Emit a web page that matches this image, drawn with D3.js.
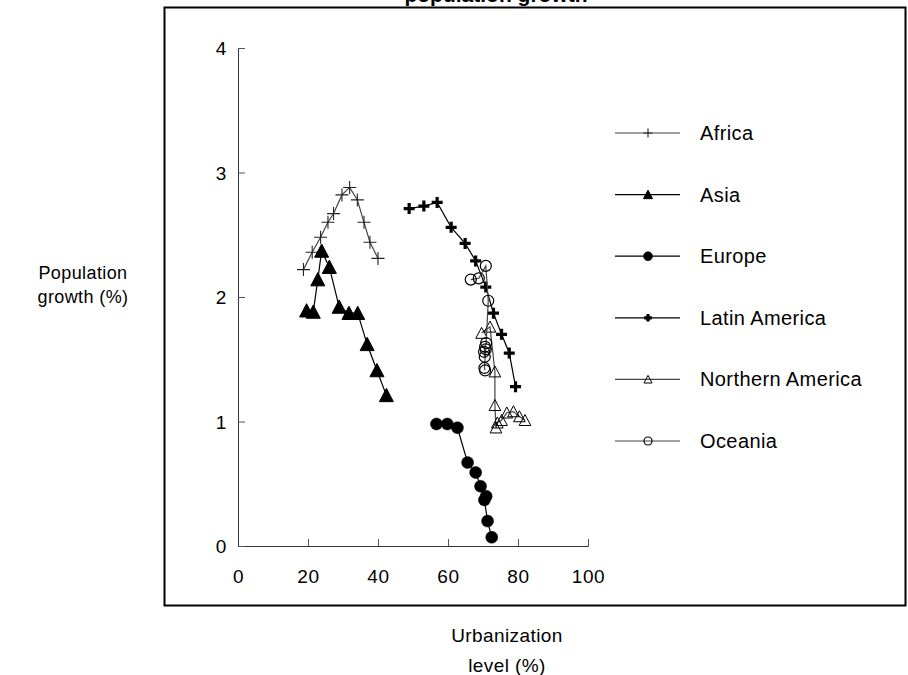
<!DOCTYPE html>
<html>
<head>
<meta charset="utf-8">
<script src="https://cdn.jsdelivr.net/npm/d3@7"></script>
<style>
  body { margin: 0; background: #fff; }
  text { font-family: "Liberation Sans", Arial, sans-serif; fill: #000; }
</style>
</head>
<body>
<script>
// urbanization level (%) and population growth (%) per region
var africaX = [18.7, 21.2, 23.6, 25.7, 27.3, 29.7, 31.9, 34.1, 36.0, 37.7, 40.0],
    africaY = [2.22, 2.36, 2.48, 2.60, 2.67, 2.82, 2.88, 2.78, 2.60, 2.44, 2.31];
var asiaX = [19.6, 21.5, 22.8, 23.9, 26.1, 28.9, 31.7, 34.2, 36.9, 39.7, 42.4],
    asiaY = [1.89, 1.88, 2.14, 2.37, 2.24, 1.92, 1.87, 1.87, 1.62, 1.41, 1.21];
var europeX = [56.7, 59.8, 62.7, 65.6, 67.9, 69.3, 70.9, 70.4, 71.3, 72.5],
    europeY = [0.98, 0.98, 0.95, 0.67, 0.59, 0.48, 0.40, 0.37, 0.20, 0.07];
var latamX = [48.9, 53.1, 56.9, 60.9, 64.9, 67.9, 70.8, 73.0, 75.3, 77.5, 79.3],
    latamY = [2.71, 2.73, 2.76, 2.56, 2.43, 2.29, 2.08, 1.87, 1.70, 1.55, 1.28];
var northAmX = [69.6, 72.0, 73.4, 73.4, 73.7, 74.1, 75.3, 76.8, 78.7, 80.4, 82.0],
    northAmY = [1.71, 1.76, 1.40, 1.13, 0.95, 0.99, 1.01, 1.07, 1.08, 1.04, 1.01];
var oceaniaX = [66.5, 68.8, 70.8, 71.5, 70.9, 70.6, 70.3, 70.5, 70.8, 70.4, 70.6],
    oceaniaY = [2.14, 2.15, 2.25, 1.97, 1.63, 1.60, 1.56, 1.52, 1.58, 1.43, 1.41];

var seriesNames = ["Africa", "Asia", "Europe", "Latin America", "Northern America", "Oceania"];
var xTicks = [0, 20, 40, 60, 80, 100],
    yTicks = [0, 1, 2, 3, 4];

var series = [
  {name: seriesNames[0], xs: africaX, ys: africaY, mark: "plus", line: "#444"},
  {name: seriesNames[1], xs: asiaX, ys: asiaY, mark: "triFill", line: "#000"},
  {name: seriesNames[2], xs: europeX, ys: europeY, mark: "dotFill", line: "#000"},
  {name: seriesNames[3], xs: latamX, ys: latamY, mark: "plusBold", line: "#000"},
  {name: seriesNames[4], xs: northAmX, ys: northAmY, mark: "triOpen", line: "#444"},
  {name: seriesNames[5], xs: oceaniaX, ys: oceaniaY, mark: "dotOpen", line: "#444"}
];

var width = 908, height = 675;

var svg = d3.select("body").append("svg")
    .attr("width", width)
    .attr("height", height);

var x = d3.scaleLinear().domain([0, 100]).range([238, 588]),
    y = d3.scaleLinear().domain([0, 4]).range([546, 48]);

// outer frame
svg.append("rect")
    .attr("x", 164.5).attr("y", 7.5)
    .attr("width", 741).attr("height", 598)
    .attr("fill", "none")
    .attr("stroke", "#000")
    .attr("stroke-width", 2);

// title, cut off at the top edge as in the original
svg.append("text")
    .attr("x", 496).attr("y", 2)
    .attr("text-anchor", "middle")
    .style("font-weight", "bold")
    .style("font-size", "21px")
    .text("population growth");

// axes
var xAxis = svg.append("g")
    .attr("transform", "translate(0," + y(0) + ")")
    .call(d3.axisBottom(x).tickValues(xTicks).tickSize(-7).tickPadding(24).tickFormat(d3.format("d")));
var yAxis = svg.append("g")
    .attr("transform", "translate(" + x(0) + ",0)")
    .call(d3.axisLeft(y).tickValues(yTicks).tickSize(-7).tickPadding(11).tickFormat(d3.format("d")));

[xAxis, yAxis].forEach(function(a) {
  a.select(".domain").attr("stroke", "#333");
  a.selectAll(".tick line").attr("stroke", "#555");
  a.selectAll(".tick text")
      .style("font-family", "'Liberation Sans', Arial, sans-serif")
      .style("font-size", "19px")
      .style("letter-spacing", "0.6px")
      .attr("fill", "#000");
});
yAxis.selectAll(".tick text").attr("dy", "0.36em");

// axis titles
function label(tx, ty, str, size) {
  svg.append("text")
      .attr("x", tx).attr("y", ty)
      .attr("text-anchor", "middle")
      .style("font-size", size + "px")
      .style("letter-spacing", "0.4px")
      .text(str);
}
label(83, 279, "Population", 18);
label(83, 303, "growth (%)", 18);
label(507, 642, "Urbanization", 19);
label(507, 672, "level (%)", 19);

// marker drawing, s = half size
function drawMark(g, kind, cx, cy, s) {
  if (kind == "plus" || kind == "plusBold") {
    g.append("path")
        .attr("d", "M" + (cx - s) + "," + cy + "H" + (cx + s) + "M" + cx + "," + (cy - s) + "V" + (cy + s))
        .attr("stroke", kind == "plus" ? "#222" : "#000")
        .attr("stroke-width", kind == "plus" ? 1.1 : 3.2)
        .attr("fill", "none");
  } else if (kind == "triFill" || kind == "triOpen") {
    g.append("path")
        .attr("d", "M" + cx + "," + (cy - s) + "L" + (cx + s) + "," + (cy + s * 0.9) + "L" + (cx - s) + "," + (cy + s * 0.9) + "Z")
        .attr("fill", kind == "triFill" ? "#000" : "#fff")
        .attr("fill-opacity", kind == "triFill" ? 1 : 0)
        .attr("stroke", "#000")
        .attr("stroke-width", 1);
  } else {
    g.append("circle")
        .attr("cx", cx).attr("cy", cy).attr("r", s)
        .attr("fill", kind == "dotFill" ? "#000" : "none")
        .attr("stroke", "#000")
        .attr("stroke-width", kind == "dotFill" ? 0.5 : 1.2);
  }
}

var markSize = {plus: 6.5, plusBold: 5.5, triFill: 7, triOpen: 5.8, dotFill: 6, dotOpen: 5.5},
    legendSize = {plus: 4.5, plusBold: 3.8, triFill: 4.5, triOpen: 4, dotFill: 4.5, dotOpen: 4};

var line = d3.line()
    .x(function(d) { return x(d[0]); })
    .y(function(d) { return y(d[1]); });

series.forEach(function(s) {
  var pts = d3.zip(s.xs, s.ys);
  var g = svg.append("g").attr("class", "series");
  g.append("path")
      .datum(pts)
      .attr("d", line)
      .attr("fill", "none")
      .attr("stroke", s.line)
      .attr("stroke-width", 1.2);
  pts.forEach(function(p) {
    drawMark(g, s.mark, x(p[0]), y(p[1]), markSize[s.mark]);
  });
});

// legend
var legend = svg.append("g").attr("class", "legend");
series.forEach(function(s, i) {
  var ly = 133 + i * 61.6;
  legend.append("line")
      .attr("x1", 615).attr("x2", 680)
      .attr("y1", ly).attr("y2", ly)
      .attr("stroke", s.line)
      .attr("stroke-width", 1.2);
  drawMark(legend, s.mark, 648, ly, legendSize[s.mark]);
  legend.append("text")
      .attr("x", 700).attr("y", ly + 7)
      .style("font-size", "20px")
      .style("letter-spacing", "0.4px")
      .text(s.name);
});
</script>
</body>
</html>
